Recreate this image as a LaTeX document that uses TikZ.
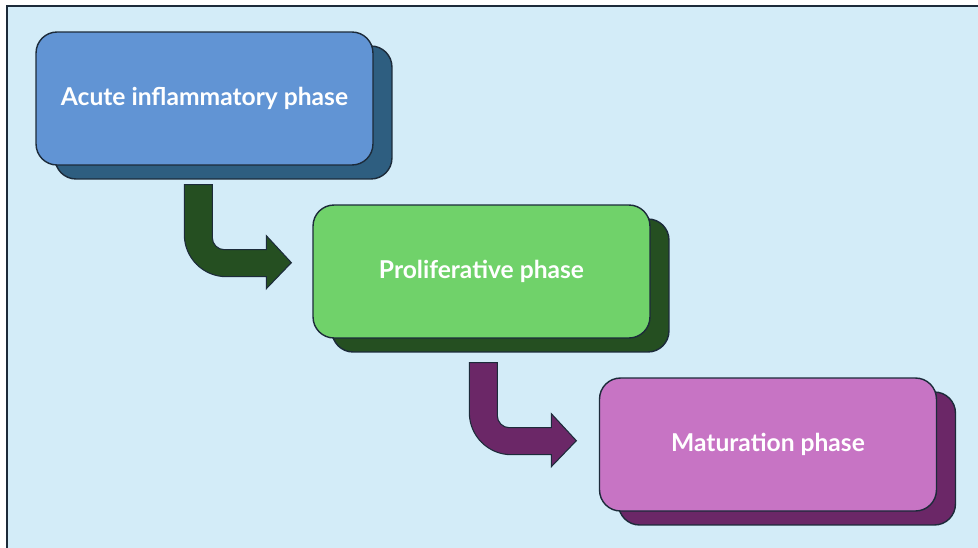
\documentclass[tikz,border=0pt]{standalone}
\usepackage{fontspec}
\newfontfamily\phasefont{Lato}
\usetikzlibrary{shadows,calc}

\definecolor{bgblue}{HTML}{D3ECF8}
\definecolor{edgeline}{HTML}{1C2B3A}
\definecolor{acutefill}{HTML}{6194D4}
\definecolor{acutedark}{HTML}{2E5E80}
\definecolor{prolifill}{HTML}{70D26A}
\definecolor{prolidark}{HTML}{254F21}
\definecolor{maturefill}{HTML}{C774C4}
\definecolor{maturedark}{HTML}{6B2767}

% bent arrow, #1 = start (top left of shaft), #2 = colour
\newcommand\bentarrow[2]{%
  \begin{scope}[shift={(#1)}]
    \filldraw[fill=#2, draw=edgeline, line width=0.6pt]
      (0,0) -- (28,0) -- (28,53) .. controls (28,59.6) and (33.4,65) .. (40,65)
      -- (82,65) -- (82,51) -- (107,78) -- (82,104) -- (82,92)
      -- (42,92) .. controls (18.8,92) and (0,73.2) .. (0,50) -- cycle;
  \end{scope}}

\begin{document}
\begin{tikzpicture}[
    x=0.02cm, y=-0.02cm,
    phasebox/.style={rectangle, rounded corners=0.42cm, minimum width=6.74cm,
                minimum height=2.66cm, inner sep=0pt, draw=edgeline, line width=0.8pt,
                text=white, font=\phasefont\bfseries\fontsize{14}{16}\selectfont},
    backbox/.style={copy shadow={shadow xshift=0.38cm, shadow yshift=-0.28cm,
                fill=#1, draw=edgeline, line width=0.8pt}}
]
\useasboundingbox (0,0) rectangle (978,548);

% background
\fill[bgblue] (7,6) rectangle (985,555);
\draw[edgeline, line width=0.8pt] (7,555) -- (7,6) -- (985,6);

% phases
\node[phasebox, fill=acutefill, backbox=acutedark] (acute) at (204.5,98.5) {Acute inflammatory phase};
\node[phasebox, fill=prolifill, backbox=prolidark] (prolif) at (481.5,271.5) {Proliferative phase};
\node[phasebox, fill=maturefill, backbox=maturedark] (mature) at (768,444.5) {Maturation phase};

% arrows between phases
\coordinate (acute-out) at ($(acute.south west)+(149,19)$);
\coordinate (prolif-out) at ($(prolif.south west)+(157,24)$);
\bentarrow{acute-out}{prolidark}
\bentarrow{prolif-out}{maturedark}

\end{tikzpicture}
\end{document}
